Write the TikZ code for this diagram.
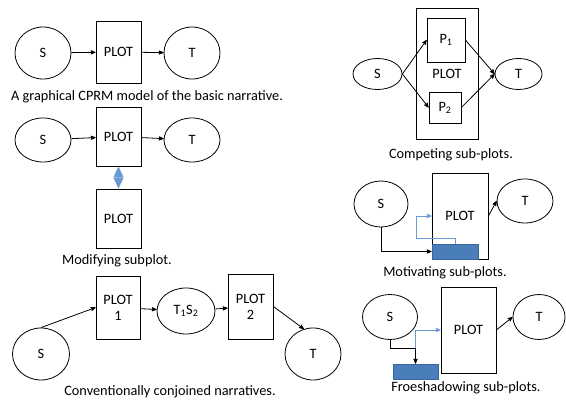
\documentclass[tikz,border=0pt]{standalone}
\usepackage{fontspec}
\setmainfont{Carlito}
\usetikzlibrary{arrows, arrows.meta, calc, positioning, shapes}

\definecolor{subblue}{HTML}{4A7EBB}
\definecolor{subline}{HTML}{6A9AD4}

\tikzset{
  ell/.style={ellipse, draw, inner sep=0pt, minimum width=56pt, minimum height=52pt},
  plotbox/.style={rectangle, draw, inner sep=0pt, minimum width=45pt, minimum height=62pt, align=center},
  subbox/.style={rectangle, draw=subblue!80!black, fill=subblue, inner sep=0pt, minimum width=46pt, minimum height=15pt},
  captext/.style={inner sep=0pt},
  link/.style={->, >=stealth'},
  motive/.style={->, >=stealth', draw=subline},
  modify/.style={draw=subline, fill=subline, {Triangle[length=11pt,width=10pt]}-{Triangle[length=11pt,width=10pt]}},
}

\begin{document}
\begin{tikzpicture}[x=1pt, y=-1pt, line width=.8pt, font=\fontsize{14.3}{16}\selectfont]
	\useasboundingbox (0,0) rectangle (566,401);
	% basic narrative
	\node[ell] (s1) at (43,53) {S};
	\node[plotbox] (p1) at (118.5,52) {PLOT};
	\node[ell] (t1) at (192,53) {T};
	\draw[link] (s1) -- (p1);
	\draw[link] (p1) -- (t1);
	\node[captext] (c1) at (147,97) {A graphical CPRM model of the basic narrative.};

	% modifying subplot
	\node[ell, minimum height=44pt] (s2) at (43,140) {S};
	\node[plotbox, minimum height=59pt] (p2) at (118.5,136.5) {PLOT};
	\node[ell, minimum height=44pt] (t2) at (192,140) {T};
	\node[plotbox, minimum height=59pt] (p2b) at (118.5,218.5) {PLOT};
	\draw[link] (s2) -- (p2);
	\draw[link] (p2) -- (t2);
	\draw[modify] (p2.south) -- (p2b.north);
	\node[captext] (c2) at (117,261) {Modifying subplot.};

	% conjoined narratives
	\node[ell, minimum width=57pt] (s3) at (41,354) {S};
	\node[plotbox, minimum width=44pt, minimum height=63pt] (pa) at (118,307.5) {PLOT\\1};
	\node[ell, minimum width=58pt, minimum height=46pt] (ts) at (186,311) {T\textsubscript{1}S\textsubscript{2}};
	\node[plotbox, minimum height=65pt] (pb) at (250.5,306.5) {PLOT\\2};
	\node[ell] (t3) at (313,354) {T};
	\draw[link] (s3.north) -- (pa.west);
	\draw[link] (pa) -- (ts);
	\draw[link] (ts) -- (pb);
	\draw[link] (pb.east) -- (t3.110);
	\node[captext] (c3) at (170,392) {Conventionally conjoined narratives.};

	% competing sub-plots
	\node[plotbox, minimum width=62pt, minimum height=131pt] (p4) at (447,73.5) {PLOT};
	\node[plotbox, minimum width=38pt, minimum height=44pt] (q1) at (446,40) {P\textsubscript{1}};
	\node[plotbox, minimum width=32pt, minimum height=31pt] (q2) at (445,107.5) {P\textsubscript{2}};
	\node[ell, minimum width=49pt, minimum height=31pt] (s4) at (377.5,74) {S};
	\node[ell, minimum width=47pt, minimum height=31pt] (t4) at (518.5,74) {T};
	\draw[link] (s4.east) -- (q1.west);
	\draw[link] (s4.east) -- (q2.west);
	\draw[link] (q1.east) -- (t4.west);
	\draw[link] (q2.east) -- (t4.west);
	\node[captext] (c4) at (451,155) {Competing sub-plots.};

	% motivating sub-plots
	\node[ell, minimum width=54pt, minimum height=46pt] (s5) at (381,204) {S};
	\node[plotbox, minimum width=56pt, minimum height=86pt] (p5) at (460,216) {PLOT};
	\node[ell, minimum height=44pt] (t5) at (525,201) {T};
	\node[subbox] (m5) at (455,251.5) {};
	\draw[link] (s5.south) |- (m5.west);
	\draw[motive] (m5.north) -- ++(0,-5) -| ($(p5.west)+(-15,0)$) -- (p5.west);
	\draw[link] (p5.east) -- (t5.west);
	\node[captext] (c5) at (445,273) {Motivating sub-plots.};

	% foreshadowing sub-plots
	\node[ell, minimum width=55pt, minimum height=45pt] (s6) at (390,317) {S};
	\node[plotbox, minimum width=55pt, minimum height=86pt] (p6) at (468.5,330) {PLOT};
	\node[ell, minimum width=52pt, minimum height=45pt] (t6) at (539,317) {T};
	\node[subbox, minimum width=45pt] (f6) at (415.5,371.5) {};
	\draw[motive] (f6.north) |- (p6.west);
	\draw[link] (s6.south) |- ([yshift=15pt]f6.north) -- (f6.north);
	\draw[link] (p6.east) -- (t6.west);
	\node[captext] (c6) at (466,388) {Froeshadowing sub-plots.};
\end{tikzpicture}
\end{document}
